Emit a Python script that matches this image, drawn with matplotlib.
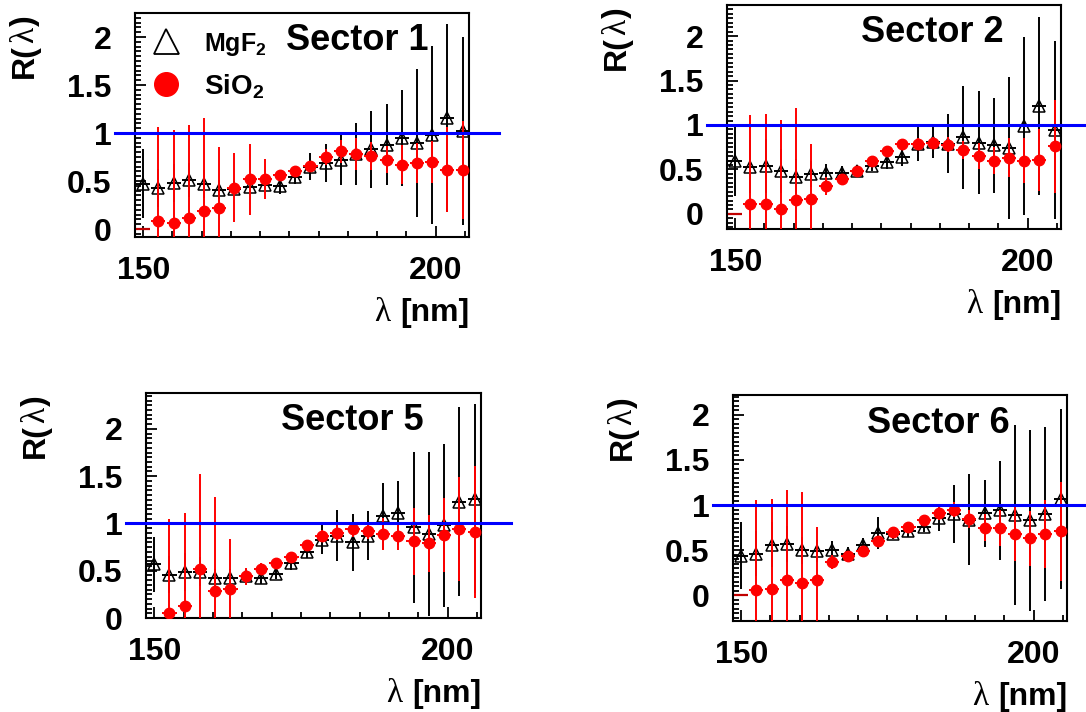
import numpy as np
import matplotlib
matplotlib.use("Agg")
import matplotlib.pyplot as plt
from matplotlib.lines import Line2D
from matplotlib.ticker import FixedLocator, MultipleLocator, FuncFormatter
import matplotlib.transforms as mtransforms

plt.rcParams['font.family'] = ['Liberation Sans', 'DejaVu Sans']
plt.rcParams['font.weight'] = 'bold'
plt.rcParams['mathtext.fontset'] = 'custom'
plt.rcParams['mathtext.rm'] = 'Liberation Sans:bold'
plt.rcParams['mathtext.bf'] = 'Liberation Sans:bold'

# wavelength bin centres [nm]
lam = [150.0, 152.6, 155.2, 157.8, 160.4, 163.0, 165.6, 168.2, 170.8, 173.4, 176.0,
       178.6, 181.2, 183.8, 186.4, 189.0, 191.6, 194.2, 196.8, 199.4, 202.0, 204.6]
lam_halfwidth = 1.2

sectors = ['Sector 1', 'Sector 2', 'Sector 5', 'Sector 6']

# MgF2 (open triangles)
mgf2_s1 = [0.47, 0.43, 0.48, 0.51, 0.47, 0.41, 0.42, 0.44, 0.46, 0.45, 0.54,
           0.65, 0.69, 0.72, 0.78, 0.83, 0.88, 0.95, 0.90, 0.98, 1.16, 1.02]
mgf2_s1_err = [0.36, 0.20, 0.20, 0.18, 0.15, 0.10, 0.08, 0.07, 0.06, 0.08, 0.07,
               0.14, 0.20, 0.26, 0.32, 0.40, 0.42, 0.50, 0.77, 0.93, 0.98, 0.98]
mgf2_s2 = [0.60, 0.53, 0.54, 0.48, 0.42, 0.45, 0.46, 0.46, 0.48, 0.54, 0.58,
           0.64, 0.79, 0.81, 0.79, 0.86, 0.80, 0.77, 0.74, 0.99, 1.21, 0.94]
mgf2_s2_err = [0.40, 0.30, 0.30, 0.25, 0.20, 0.15, 0.10, 0.08, 0.07, 0.06, 0.08,
               0.10, 0.20, 0.18, 0.33, 0.58, 0.58, 0.53, 0.80, 1.00, 1.00, 1.00]
mgf2_s5 = [0.57, 0.46, 0.49, 0.49, 0.42, 0.42, 0.44, 0.42, 0.47, 0.58, 0.70,
           0.83, 0.87, 0.80, 0.87, 1.08, 1.11, 0.96, 0.89, 0.98, 1.23, 1.26]
mgf2_s5_err = [0.29, 0.20, 0.20, 0.15, 0.10, 0.10, 0.08, 0.06, 0.06, 0.07, 0.07,
               0.15, 0.27, 0.30, 0.26, 0.35, 0.34, 0.80, 0.87, 0.86, 1.00, 1.00]
mgf2_s6 = [0.44, 0.46, 0.56, 0.57, 0.50, 0.49, 0.50, 0.46, 0.56, 0.69, 0.68,
           0.71, 0.76, 0.86, 0.90, 0.84, 0.91, 0.94, 0.89, 0.83, 0.90, 1.07]
mgf2_s6_err = [0.37, 0.25, 0.25, 0.20, 0.15, 0.12, 0.10, 0.08, 0.07, 0.18, 0.06,
               0.06, 0.06, 0.15, 0.32, 0.50, 0.37, 0.55, 1.00, 1.00, 0.96, 1.00]

# SiO2 (full red circles), first bin is empty
sio2_s1 = [0.0, 0.08, 0.06, 0.11, 0.19, 0.22, 0.43, 0.52, 0.52, 0.56, 0.60,
           0.66, 0.75, 0.81, 0.78, 0.76, 0.72, 0.67, 0.69, 0.70, 0.62, 0.61]
sio2_s1_err = [0.0, 0.98, 0.97, 0.97, 0.97, 0.63, 0.36, 0.37, 0.21, 0.05, 0.05,
               0.05, 0.08, 0.12, 0.17, 0.15, 0.14, 0.20, 0.21, 0.22, 0.44, 0.51]
sio2_s2 = [0.0, 0.11, 0.11, 0.06, 0.16, 0.17, 0.31, 0.39, 0.48, 0.59, 0.71,
           0.79, 0.79, 0.80, 0.78, 0.72, 0.65, 0.60, 0.63, 0.60, 0.61, 0.76]
sio2_s2_err = [0.0, 1.00, 1.01, 1.00, 1.03, 0.62, 0.10, 0.05, 0.05, 0.05, 0.05,
               0.05, 0.06, 0.07, 0.08, 0.10, 0.15, 0.15, 0.22, 0.25, 0.35, 0.52]
sio2_s5 = [np.nan, 0.05, 0.13, 0.52, 0.29, 0.31, 0.44, 0.52, 0.58, 0.65, 0.77,
           0.87, 0.90, 0.94, 0.92, 0.89, 0.87, 0.81, 0.79, 0.88, 0.94, 0.91]
sio2_s5_err = [0.0, 1.00, 0.98, 1.00, 0.99, 0.53, 0.09, 0.06, 0.05, 0.05, 0.05,
               0.06, 0.08, 0.08, 0.08, 0.17, 0.15, 0.35, 0.30, 0.39, 0.55, 0.70]
sio2_s6 = [0.0, 0.06, 0.07, 0.17, 0.14, 0.17, 0.37, 0.44, 0.49, 0.60, 0.70,
           0.76, 0.83, 0.91, 0.95, 0.85, 0.75, 0.75, 0.68, 0.63, 0.68, 0.71]
sio2_s6_err = [0.0, 1.00, 1.00, 1.00, 1.00, 0.59, 0.08, 0.05, 0.05, 0.05, 0.05,
               0.05, 0.05, 0.07, 0.08, 0.10, 0.15, 0.20, 0.30, 0.30, 0.38, 0.55]

mgf2 = [mgf2_s1, mgf2_s2, mgf2_s5, mgf2_s6]
mgf2_err = [mgf2_s1_err, mgf2_s2_err, mgf2_s5_err, mgf2_s6_err]
sio2 = [sio2_s1, sio2_s2, sio2_s5, sio2_s6]
sio2_err = [sio2_s1_err, sio2_s2_err, sio2_s5_err, sio2_s6_err]

ref_level = 1.0
ylims = [(-0.083, 2.25), (-0.17, 2.35), (0.0, 2.38), (-0.285, 2.22)]
xlim = (148.6, 205.7)

# axes boxes in figure pixels: left, top, right, bottom
W, H = 1086, 712
boxes = [(135, 13, 469, 237), (727, 5, 1061, 229),
         (146, 393, 481, 618), (733, 395, 1067, 621)]

greek = dict(family='Liberation Serif', weight='normal', fontsize=24)


def main():
    fig = plt.figure(figsize=(W / 100, H / 100), dpi=100)
    for i in range(4):
        l, t, r, b = boxes[i]
        ax = fig.add_axes([l / W, 1 - b / H, (r - l) / W, (b - t) / H])

        # MgF2
        ax.errorbar(lam, mgf2[i], yerr=mgf2_err[i], xerr=lam_halfwidth, fmt='^',
                    ms=8.5, mfc='none', mec='black', mew=1.1, ecolor='black',
                    elinewidth=1.4, capsize=0, zorder=3)
        # SiO2 (empty first bin drawn as bare bin marker)
        ax.errorbar(lam[1:], sio2[i][1:], yerr=sio2_err[i][1:], xerr=lam_halfwidth,
                    fmt='o', ms=7.5, color='red', ecolor='red', elinewidth=1.4,
                    capsize=0, zorder=4)
        ax.errorbar(lam[:1], sio2[i][:1], xerr=lam_halfwidth, fmt='none',
                    ecolor='#c00000', elinewidth=1.6, zorder=4)

        # reference line at R = 1, running a bit past the frame
        trans = mtransforms.blended_transform_factory(ax.transAxes, ax.transData)
        ax.plot([-0.06, 1.09], [ref_level, ref_level], color='#0000ff', lw=2.2,
                transform=trans, clip_on=False, zorder=5)

        ax.set_xlim(*xlim)
        ax.set_ylim(*ylims[i])

        ax.xaxis.set_major_locator(FixedLocator([150, 200]))
        ax.xaxis.set_minor_locator(MultipleLocator(5))
        ax.yaxis.set_major_locator(MultipleLocator(0.5))
        ax.yaxis.set_minor_locator(MultipleLocator(0.05))
        ax.yaxis.set_major_formatter(FuncFormatter(lambda v, p: '%g' % v))
        ax.tick_params(which='both', direction='in', top=False, right=False,
                       labelsize=23, width=1.3)
        ax.tick_params(which='major', length=8)
        ax.tick_params(which='minor', length=4)
        ax.tick_params(axis='x', pad=14)
        ax.tick_params(axis='y', pad=17)
        for sp in ax.spines.values():
            sp.set_linewidth(1.5)

        # x label: serif lambda + bold "[nm]"
        t_nm = ax.annotate('[nm]', xy=(1, 0), xycoords='axes fraction',
                           xytext=(0, -76), textcoords='offset pixels', ha='right',
                           va='center', fontsize=23)
        ax.annotate('λ', xy=(0, 0), xycoords=t_nm, xytext=(-10, 0),
                    textcoords='offset pixels', ha='right', va='bottom', **greek)

        # y label R(λ), built from the top down
        t_close = ax.annotate(')', xy=(0, 1), xycoords='axes fraction',
                              xytext=(-110, -2), textcoords='offset pixels',
                              ha='center', va='top', rotation=90, fontsize=23)
        t_lam = ax.annotate('λ', xy=(0.5, 0), xycoords=t_close, xytext=(0, -1),
                            textcoords='offset pixels', ha='center', va='top',
                            rotation=90, **greek)
        ax.annotate('R(', xy=(0.5, 0), xycoords=t_lam, xytext=(0, -1),
                    textcoords='offset pixels', ha='center', va='top',
                    rotation=90, fontsize=23)

        ax.annotate(sectors[i], xy=(1, 1), xycoords='axes fraction',
                    xytext=(-40 if i == 0 else -57, -28), textcoords='offset pixels',
                    ha='right', va='center', fontsize=26)

        if i == 0:
            handles = [Line2D([], [], marker='^', ls='none', ms=18, mfc='none',
                              mec='black', mew=1.3),
                       Line2D([], [], marker='o', ls='none', ms=17, color='red')]
            leg = ax.legend(handles, [r'MgF$_\mathbf{2}$', r'SiO$_\mathbf{2}$'],
                            loc='upper left', bbox_to_anchor=(0.0, 0.92),
                            frameon=False, fontsize=20, handlelength=2.2,
                            handletextpad=0.3, labelspacing=0.5, borderpad=0,
                            borderaxespad=0)
            leg.get_texts()[0].set_fontsize(18)

    fig.savefig('out.png', dpi=100)


if __name__ == '__main__':
    main()
